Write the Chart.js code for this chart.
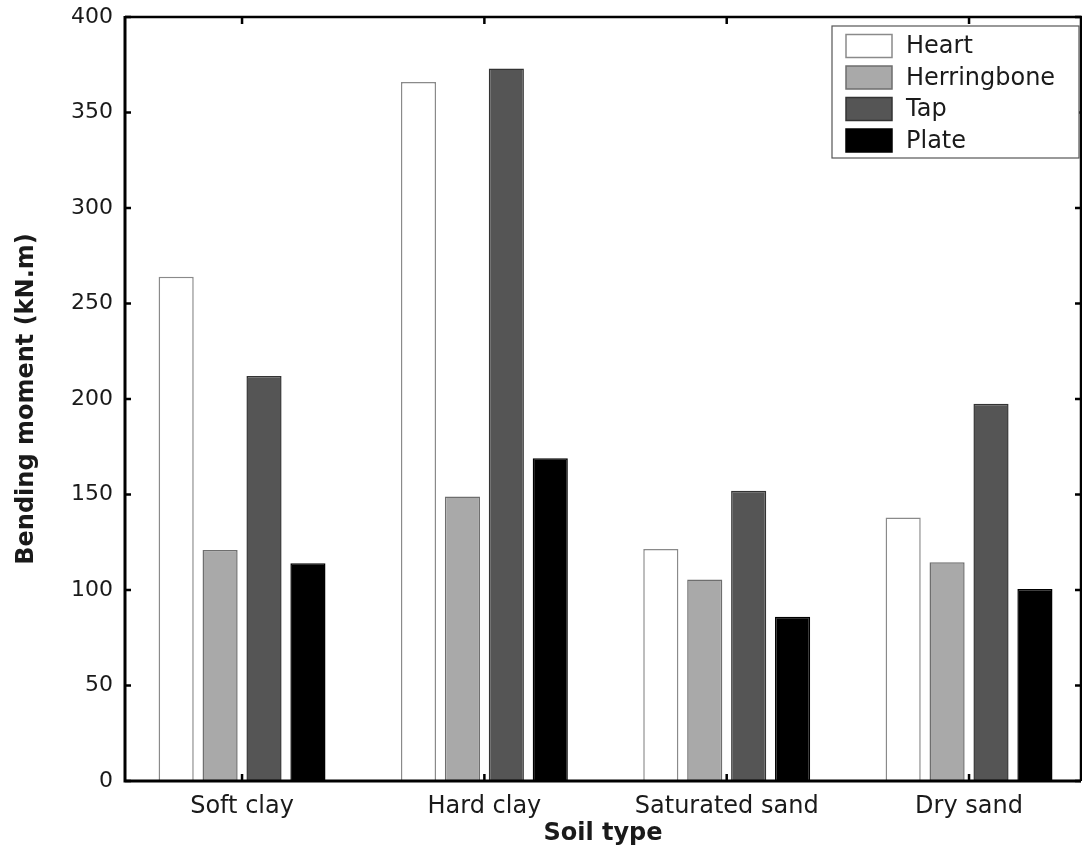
<!DOCTYPE html>
<html>
<head>
<meta charset="utf-8">
<title>Bending moment by soil type</title>
<script src="https://cdn.jsdelivr.net/npm/chart.js@4"></script>
<style>
  html, body { margin: 0; padding: 0; background: #fff; }
  #wrap { width: 1082px; height: 849px; }
</style>
</head>
<body>
<div id="wrap"><canvas id="chart" width="1082" height="849"></canvas></div>
<script>
const categories = ['Soft clay', 'Hard clay', 'Saturated sand', 'Dry sand'];
const heart = [264, 366, 121.5, 138];
const herringbone = [121, 149, 105.5, 114.5];
const tap = [212, 373, 152, 197.5];
const plate = [114, 169, 86, 100.5];
const yTicks = [0, 50, 100, 150, 200, 250, 300, 350, 400];

const txt = '#1a1a1a';

// points at x = 1..4 so the x axis can be trimmed like the original figure
function toPoints(values) {
    return values.map((v, i) => ({ x: i + 1, y: v }));
}

// box around the plot with inward tick marks
const framePlugin = {
    id: 'frame',
    afterDraw(chart) {
        const { ctx, chartArea: a } = chart;
        const xs = chart.scales.x;
        const ys = chart.scales.y;
        ctx.save();
        ctx.strokeStyle = '#000';
        ctx.lineCap = 'butt';

        ctx.lineWidth = 2.5;
        ctx.beginPath();
        xs.ticks.forEach(t => {
            const px = xs.getPixelForValue(t.value);
            ctx.moveTo(px, a.bottom);
            ctx.lineTo(px, a.bottom - 7);
            ctx.moveTo(px, a.top);
            ctx.lineTo(px, a.top + 7);
        });
        ys.ticks.forEach(t => {
            const py = ys.getPixelForValue(t.value);
            ctx.moveTo(a.left, py);
            ctx.lineTo(a.left + 6, py);
            ctx.moveTo(a.right, py);
            ctx.lineTo(a.right - 6, py);
        });
        ctx.stroke();

        ctx.lineWidth = 3;
        ctx.beginPath();
        ctx.moveTo(a.left, a.top - 1);
        ctx.lineTo(a.left, a.bottom);
        ctx.lineTo(a.right, a.bottom);
        ctx.stroke();

        ctx.lineWidth = 2.5;
        ctx.beginPath();
        ctx.moveTo(a.left, a.top);
        ctx.lineTo(a.right, a.top);
        ctx.lineTo(a.right, a.bottom);
        ctx.stroke();
        ctx.restore();
    }
};

// legend box in the top right corner, like the matlab one
const legendBox = {
    id: 'legendBox',
    afterDraw(chart) {
        const { ctx } = chart;
        const bx = 832, by = 26, bw = 247, bh = 132;
        ctx.save();
        ctx.fillStyle = '#fff';
        ctx.fillRect(bx, by, bw, bh);
        ctx.strokeStyle = '#555';
        ctx.lineWidth = 1.2;
        ctx.strokeRect(bx, by, bw, bh);

        ctx.font = '24px "DejaVu Sans"';
        ctx.textBaseline = 'middle';
        ctx.textAlign = 'left';
        chart.data.datasets.forEach((ds, i) => {
            const cy = 46 + i * 31.5;
            ctx.fillStyle = ds.backgroundColor;
            ctx.fillRect(846, cy - 11.5, 46, 23);
            ctx.strokeStyle = ds.borderColor;
            ctx.lineWidth = 1.5;
            ctx.strokeRect(846, cy - 11.5, 46, 23);
            ctx.fillStyle = txt;
            ctx.fillText(ds.label, 906, cy + 1);
        });
        ctx.restore();
    }
};

const ctx = document.getElementById('chart').getContext('2d');

new Chart(ctx, {
    type: 'bar',
    data: {
        datasets: [
            { label: 'Heart', data: toPoints(heart), backgroundColor: '#ffffff', borderColor: '#8a8a8a' },
            { label: 'Herringbone', data: toPoints(herringbone), backgroundColor: '#a9a9a9', borderColor: '#6e6e6e' },
            { label: 'Tap', data: toPoints(tap), backgroundColor: '#555555', borderColor: '#333333' },
            { label: 'Plate', data: toPoints(plate), backgroundColor: '#000000', borderColor: '#000000' }
        ]
    },
    options: {
        responsive: false,
        animation: false,
        events: [],
        devicePixelRatio: 1,
        layout: { padding: { top: 17, right: 1, left: 0, bottom: 0 } },
        datasets: {
            bar: {
                borderWidth: 1.5,
                categoryPercentage: 0.725,
                barPercentage: 0.8
            }
        },
        plugins: {
            legend: { display: false },
            tooltip: { enabled: false }
        },
        scales: {
            x: {
                type: 'linear',
                min: 0.517,
                max: 4.462,
                offset: false,
                bounds: 'data',
                grid: { display: false, offset: false },
                border: { display: false },
                afterBuildTicks: axis => {
                    axis.ticks = categories.map((c, i) => ({ value: i + 1 }));
                },
                afterFit: axis => {
                    axis.height = 68;
                    axis.paddingLeft = 0;
                    axis.paddingRight = 0;
                },
                ticks: {
                    autoSkip: false,
                    maxRotation: 0,
                    padding: 3,
                    color: txt,
                    font: { family: 'DejaVu Sans', size: 24 },
                    callback: v => categories[v - 1] || ''
                },
                title: {
                    display: true,
                    text: 'Soil type',
                    color: txt,
                    padding: { top: 0, bottom: 1 },
                    font: { family: 'DejaVu Sans', size: 24, weight: 'bold' }
                }
            },
            y: {
                min: 0,
                max: 400,
                grid: { display: false },
                border: { display: false },
                afterBuildTicks: axis => {
                    axis.ticks = yTicks.map(v => ({ value: v }));
                },
                afterFit: axis => {
                    axis.width = 125;
                    axis.paddingTop = 0;
                    axis.paddingBottom = 0;
                },
                ticks: {
                    padding: 4,
                    color: txt,
                    font: { family: 'DejaVu Sans', size: 22 }
                },
                title: {
                    display: true,
                    text: 'Bending moment (kN.m)',
                    color: txt,
                    padding: { top: 12, bottom: 0 },
                    font: { family: 'DejaVu Sans', size: 24, weight: 'bold' }
                }
            }
        }
    },
    plugins: [framePlugin, legendBox]
});
</script>
</body>
</html>
